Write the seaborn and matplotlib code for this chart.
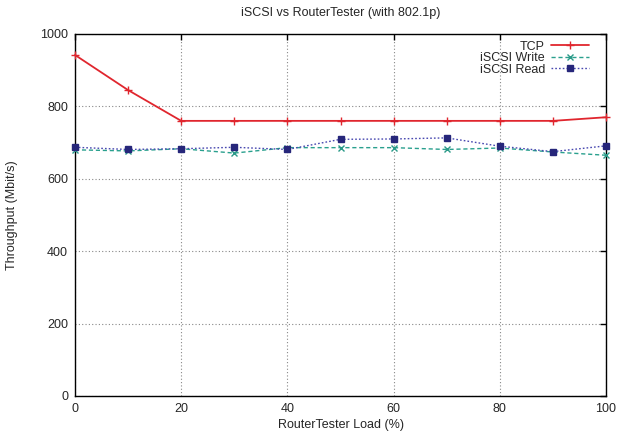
import matplotlib
matplotlib.use("Agg")
import matplotlib.pyplot as plt
import pandas as pd
import seaborn as sns

load = [0, 10, 20, 30, 40, 50, 60, 70, 80, 90, 100]
tcp = [942, 845, 760, 760, 760, 760, 760, 760, 760, 760, 770]
iscsi_write = [680, 677, 683, 671, 686, 686, 686, 681, 685, 674, 665]
iscsi_read = [687, 681, 683, 687, 681, 709, 710, 713, 690, 675, 691]

sns.set_theme(style="white")
plt.rcParams["font.family"] = ["Liberation Sans", "DejaVu Sans"]
plt.rcParams["font.size"] = 9

fig = plt.figure(figsize=(6.23, 4.33), dpi=100)
ax = fig.add_axes([0.1204, 0.0855, 0.8523, 0.836])

# name, values, line colour, marker colour, style, marker, size, width
series = [
    ("TCP", tcp, "#e0262e", "#e0262e", "-", "+", 6, 1.3),
    ("iSCSI Write", iscsi_write, "#2aa08e", "#2a9a88", (0, (3, 2)), "x", 4.5, 1.0),
    ("iSCSI Read", iscsi_read, "#4848b0", "#26267a", (0, (1.2, 1.5)), "s", 4.0, 1.0),
]
for name, values, color, mcolor, ls, marker, ms, lw in series:
    df = pd.DataFrame({"load": load, "throughput": values})
    sns.lineplot(data=df, x="load", y="throughput", ax=ax, color=color,
                 linestyle=ls, marker=marker, markersize=ms, linewidth=lw,
                 markerfacecolor=mcolor, markeredgecolor=mcolor,
                 markeredgewidth=1.0, label=name, clip_on=False, zorder=3)

ax.set_xlim(0, 100)
ax.set_ylim(0, 1000)
ax.set_xticks(range(0, 101, 20))
ax.set_yticks(range(0, 1001, 200))
ax.grid(True, color="#888888", linestyle=(0, (1, 2)), linewidth=0.8)
ax.tick_params(direction="in", top=True, right=True, length=4, width=1,
               color="black", labelsize=9, pad=5)
for s in ax.spines.values():
    s.set_color("black")
    s.set_linewidth(1)

ax.set_title("iSCSI vs RouterTester (with 802.1p)", fontsize=9, pad=13)
ax.set_xlabel("RouterTester Load (%)", fontsize=9, labelpad=3)
ax.set_ylabel("Throughput (Mbit/s)", fontsize=9, labelpad=16)

ax.legend(loc="upper right", bbox_to_anchor=(0.977, 0.995), markerfirst=False,
          frameon=False, fontsize=9, handlelength=3.0, handletextpad=0.5,
          labelspacing=-0.05, borderaxespad=0.0)

fig.savefig("out.png", dpi=100)
